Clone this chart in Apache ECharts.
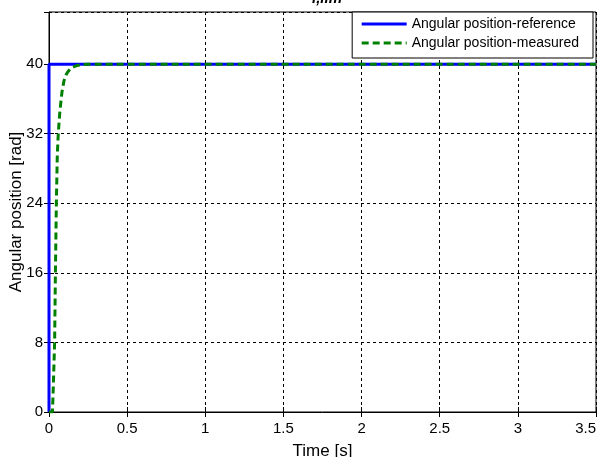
<!DOCTYPE html>
<html>
<head>
<meta charset="utf-8">
<script src="https://cdn.jsdelivr.net/npm/echarts@6/dist/echarts.min.js"></script>
<style>html,body{margin:0;padding:0;background:#fff;}#c{width:601px;height:457px;}</style>
</head>
<body>
<div id="c"></div>
<script>
// Data
const seriesNames = ['Angular position-reference', 'Angular position-measured'];
const refTime = [0, 0, 3.5];
const refValue = [0, 40, 40];
const measTime = [0, 0.022, 0.026, 0.031, 0.036, 0.041, 0.047, 0.053, 0.058, 0.063, 0.068, 0.075, 0.083, 0.096, 0.11, 0.12, 0.135, 0.154, 0.18, 0.21, 0.25, 3.5];
const measValue = [0, 0, 2, 5, 8, 16, 24, 29.5, 31.5, 33, 34.2, 35.5, 36.8, 38.1, 38.8, 39.1, 39.45, 39.65, 39.85, 39.95, 40, 40];
const xTicks = [0, 0.5, 1, 1.5, 2, 2.5, 3, 3.5];
const yTicks = [0, 8, 16, 24, 32, 40];
const titleText = 'i,lim';
const xName = 'Time [s]';
const yName = 'Angular position [rad]';

const FONT = 'Liberation Sans, Arial, sans-serif';
const chart = echarts.init(document.getElementById('c'), null, {renderer: 'canvas'});
const zip = (a, b) => a.map((v, i) => [v, b[i]]);
const gridLine = {show: true, lineStyle: {color: '#000', width: 1, type: [3, 3]}};
const tick = {show: true, inside: true, length: 5, lineStyle: {color: '#000'}};
const noSym = 'rgba(0,0,0,0)';

chart.setOption({
  animation: false,
  backgroundColor: '#fff',
  title: {text: titleText, left: 312, top: -9, padding: 0,
    textStyle: {fontFamily: FONT, fontSize: 15, fontStyle: 'italic', fontWeight: 'bold', color: '#000'}},
  grid: {left: 49, right: 5, top: 12, bottom: 45, containLabel: false, outerBoundsMode: 'none',
    show: true, borderColor: '#000', borderWidth: 1, backgroundColor: '#fff'},
  legend: {
    orient: 'vertical', right: 8, top: 12, itemWidth: 45, itemHeight: 14, itemGap: 5,
    padding: [5, 14, 8, 8], borderColor: '#000', borderWidth: 1, backgroundColor: '#fff',
    itemStyle: {opacity: 0},
    lineStyle: {width: 3},
    textStyle: {fontFamily: FONT, fontSize: 14, color: '#000'},
    data: seriesNames
  },
  xAxis: [{
    type: 'value', min: xTicks[0], max: xTicks[xTicks.length - 1], interval: 0.5,
    name: xName, nameLocation: 'middle', nameGap: 31, nameMoveOverlap: false,
    nameTextStyle: {fontFamily: FONT, fontSize: 17, color: '#000'},
    axisLine: {show: true, lineStyle: {color: '#000'}},
    axisTick: tick,
    axisLabel: {fontFamily: FONT, fontSize: 15, color: '#000', margin: 9, alignMaxLabel: 'right'},
    splitLine: gridLine
  }, {
    type: 'value', position: 'top', min: xTicks[0], max: xTicks[xTicks.length - 1], interval: 0.5,
    axisLine: {show: false}, axisTick: tick, axisLabel: {show: false}, splitLine: {show: false}
  }],
  yAxis: [{
    type: 'value', min: 0, max: 46, interval: 8,
    name: yName, nameLocation: 'middle', nameGap: 24, nameMoveOverlap: false,
    nameTextStyle: {fontFamily: FONT, fontSize: 17, color: '#000'},
    axisLine: {show: true, lineStyle: {color: '#000'}},
    axisTick: tick,
    axisLabel: {fontFamily: FONT, fontSize: 15, color: '#000', margin: 6, showMaxLabel: false,
      formatter: v => (yTicks.indexOf(v) >= 0 ? String(v) : '')},
    splitLine: gridLine
  }, {
    type: 'value', position: 'right', min: 0, max: 46, interval: 8,
    axisLine: {show: false}, axisTick: tick, axisLabel: {show: false}, splitLine: {show: false}
  }],
  series: [{
    name: seriesNames[0], type: 'line', data: zip(refTime, refValue),
    showSymbol: false, symbol: 'circle', z: 3,
    lineStyle: {color: '#0000ff', width: 3}, itemStyle: {color: noSym, borderColor: noSym}
  }, {
    name: seriesNames[1], type: 'line', data: zip(measTime, measValue),
    showSymbol: false, symbol: 'circle', z: 4,
    lineStyle: {color: '#008000', width: 3, type: [7, 4]}, itemStyle: {color: noSym, borderColor: noSym}
  }]
});
</script>
</body>
</html>
